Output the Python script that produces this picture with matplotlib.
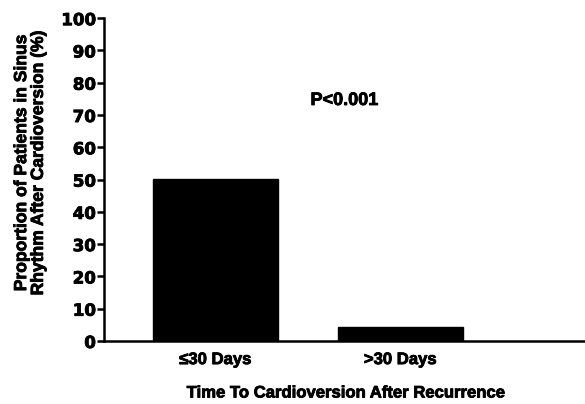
import matplotlib
matplotlib.use("Agg")
import matplotlib.pyplot as plt
import matplotlib.patheffects as pe

categories = ["\u226430 Days", ">30 Days"]
values = [50.2, 4.3]
yticks = [0, 10, 20, 30, 40, 50, 60, 70, 80, 90, 100]

plt.rcParams['font.family'] = ['Liberation Sans', 'DejaVu Sans']
plt.rcParams['font.weight'] = 'bold'

heavy = [pe.withStroke(linewidth=0.6, foreground='black')]

W, H = 585, 404
fig = plt.figure(figsize=(W / 100, H / 100), dpi=100)
ax = fig.add_axes([0.178, 0.156, 0.822, 0.799])
x = list(range(len(categories)))
ax.bar(x, values, width=0.676, color='black', edgecolor='black')
ax.set_xlim(-0.6, 2.0)
ax.set_ylim(0, 100)
ax.set_yticks(yticks)
ax.set_yticklabels([str(v) for v in yticks], fontsize=12, fontweight='bold',
                   family='DejaVu Sans')
ax.set_xticks(x)
ax.set_xticklabels(categories, fontsize=12, fontweight='bold')
for lab in ax.get_xticklabels() + ax.get_yticklabels():
    lab.set_path_effects(heavy)
ax.tick_params(axis='x', length=0, pad=8)
ax.tick_params(axis='y', length=5, width=1.8, pad=1)
for s in ['top', 'right']:
    ax.spines[s].set_visible(False)
for s in ['left', 'bottom']:
    ax.spines[s].set_linewidth(1.8)
fig.text(30 / W, 1 - 163 / H, "Proportion of Patients in Sinus\nRhythm After Cardioversion (%)",
         rotation=90, ha='center', va='center', fontsize=12.6, fontweight='bold',
         linespacing=1.15, path_effects=heavy)
fig.text(345 / W, 1 - 393 / H, "Time To Cardioversion After Recurrence",
         ha='center', va='center', fontsize=12, fontweight='bold', path_effects=heavy)
ax.text(0.70, 74.5, "P<0.001", ha='center', va='center', fontsize=13, fontweight='bold',
        path_effects=heavy)
fig.savefig("out.png", dpi=100)
